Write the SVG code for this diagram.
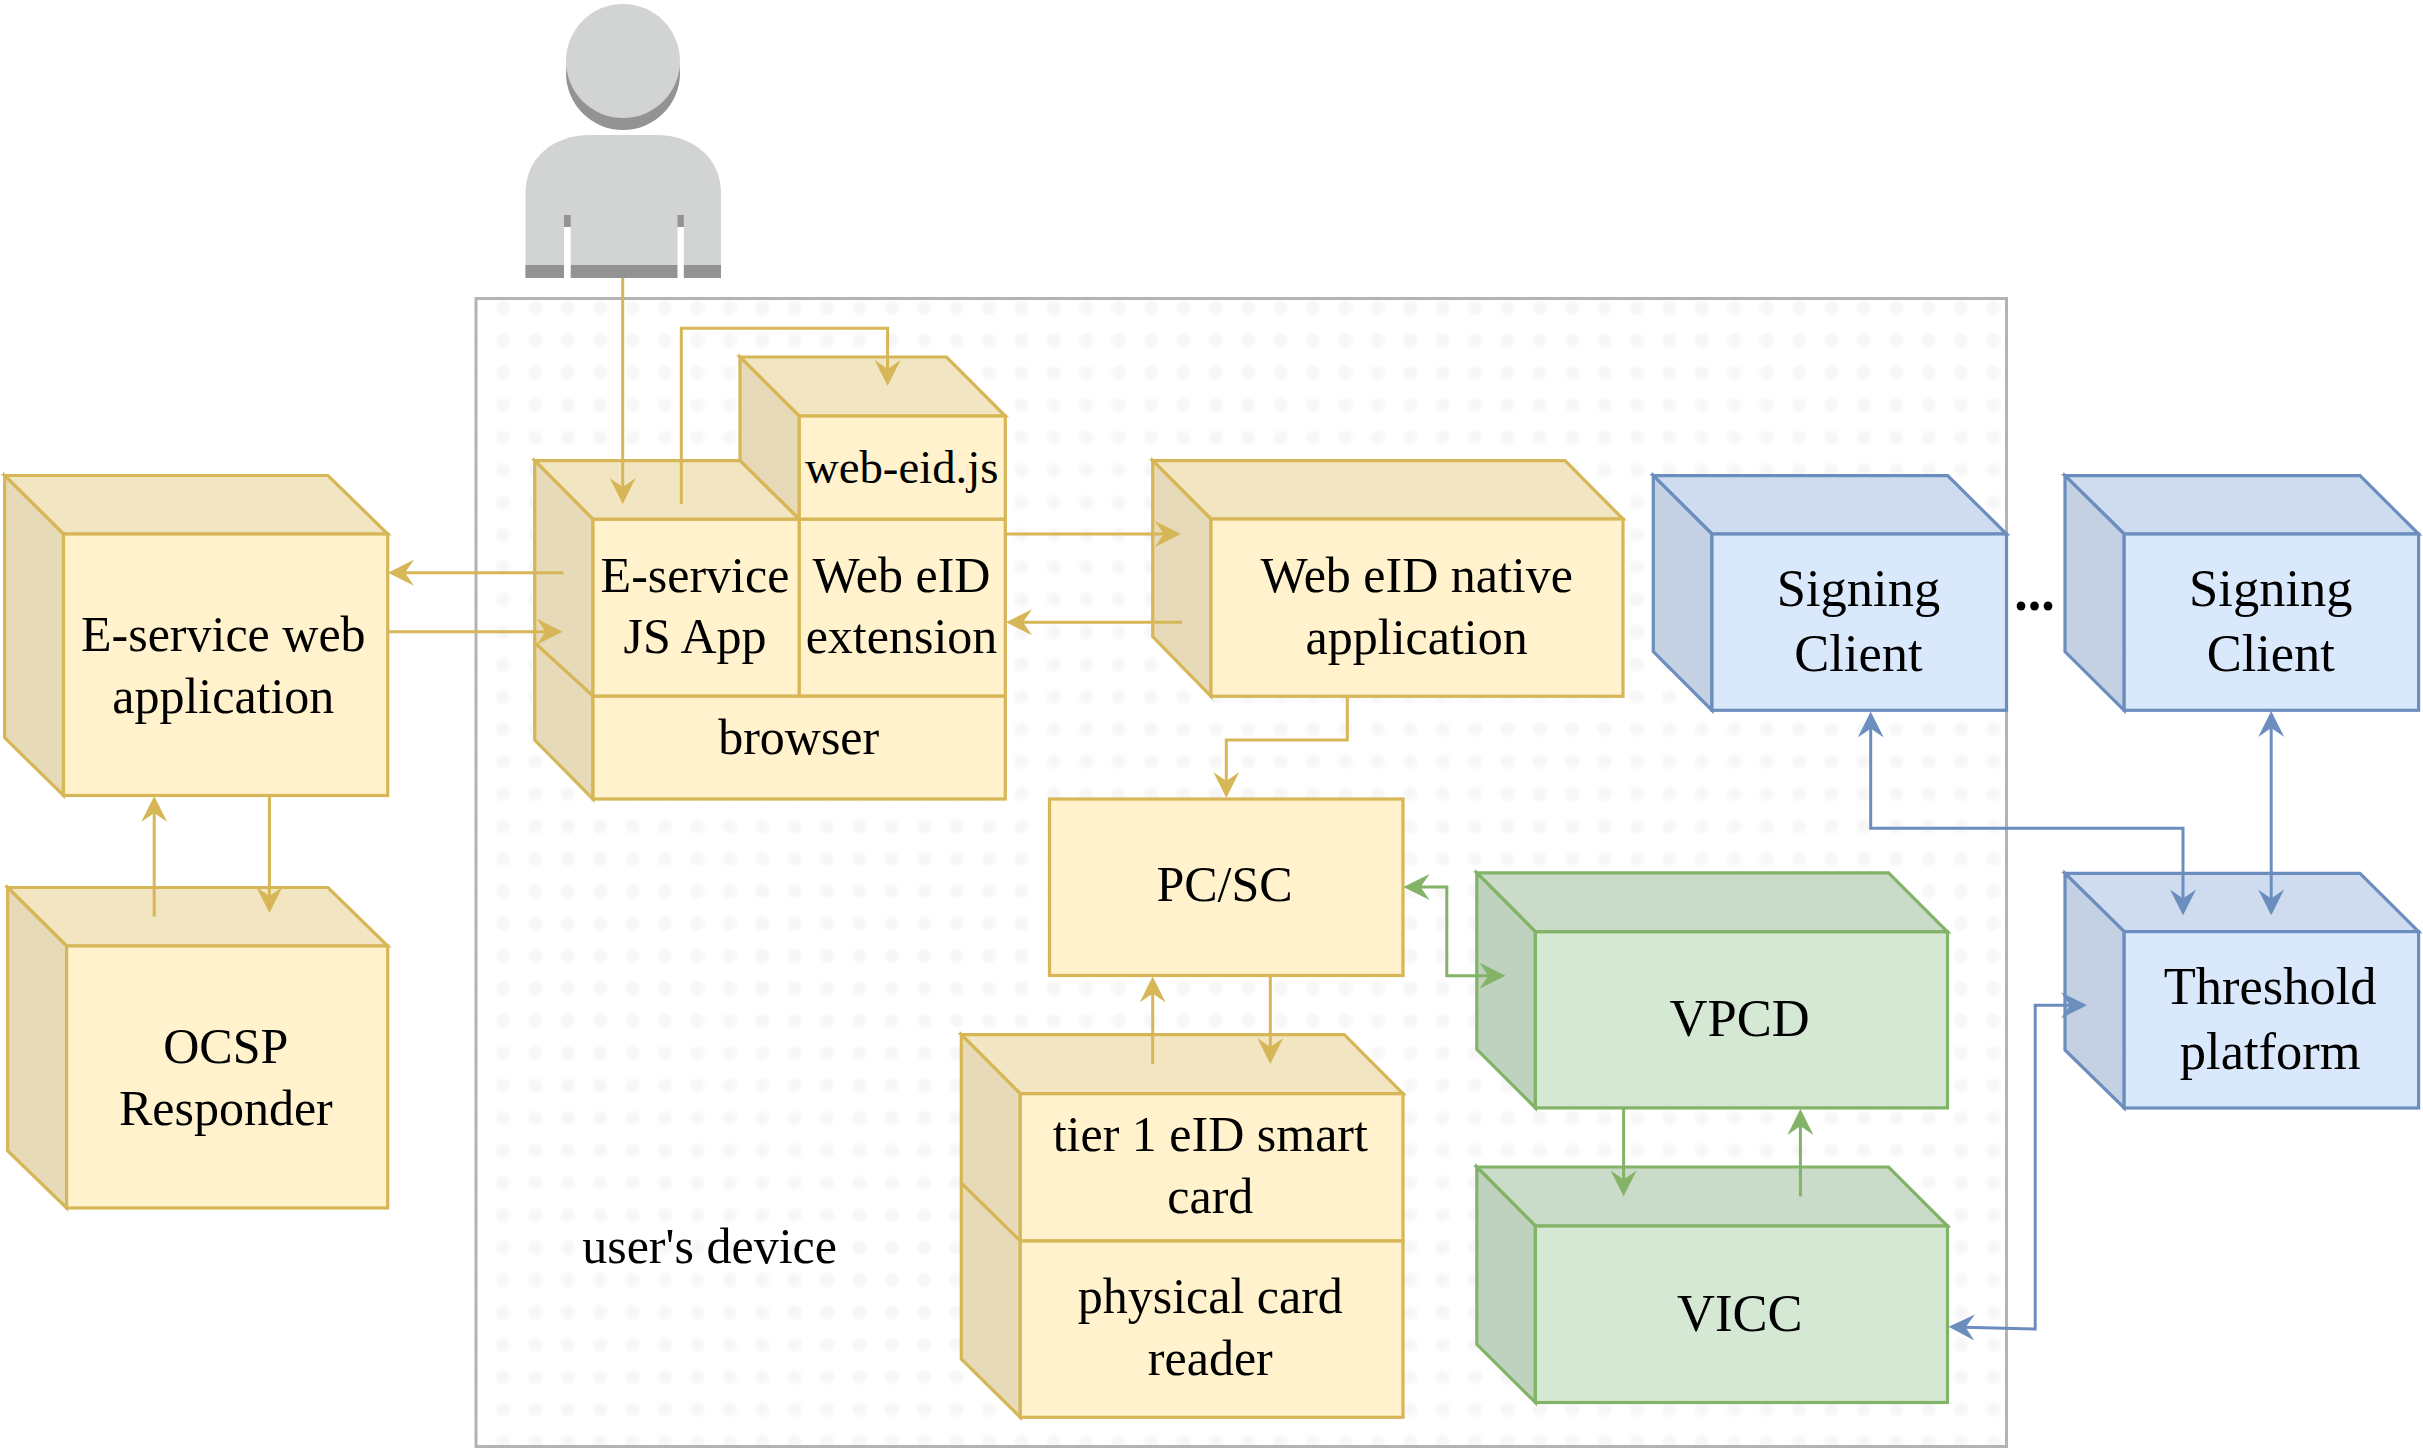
<svg xmlns="http://www.w3.org/2000/svg" width="2423" height="1454" viewBox="0 0 2423 1454">
<style>
text{font-family:"Liberation Serif","Times New Roman",serif;fill:#000;text-anchor:middle}
.t50{font-size:50px}
.t47{font-size:46.8px}
.t52{font-size:52.5px}
.n{stroke-width:3.2;stroke-linejoin:miter}
.y{stroke:#d6b656}.y.f{fill:#fff2cc}.y.t{fill:#f2e6c2}.y.s{fill:#e6dab8}
.g{stroke:#82b366}.g.f{fill:#d5e8d4}.g.t{fill:#cadcc9}.g.s{fill:#bfd1bf}
.b{stroke:#6c8ebf}.b.f{fill:#dae8fc}.b.t{fill:#cfdcf0}.b.s{fill:#c4d1e3}
.c{fill:none;stroke-width:3}
.cy{stroke:#d6b656;marker-end:url(#ay)}
.cg{stroke:#82b366;marker-end:url(#ag)}
.cb{stroke:#6c8ebf;marker-end:url(#ab)}
.cg.two{marker-start:url(#ag)}
.cb.two{marker-start:url(#ab)}
</style>
<defs>
<radialGradient id="dot">
<stop offset="0" stop-color="#f6f6f6"/>
<stop offset="0.55" stop-color="#f7f7f7"/>
<stop offset="1" stop-color="#ffffff"/>
</radialGradient>
<pattern id="dots" patternUnits="userSpaceOnUse" x="486.8" y="291.8" width="32.4" height="32.4">
<circle cx="16.2" cy="16.2" r="9" fill="url(#dot)"/>
</pattern>
<marker id="ay" viewBox="0 0 26 26" refX="10" refY="13" markerWidth="26" markerHeight="26" markerUnits="userSpaceOnUse" orient="auto-start-reverse"><path d="M26,13 L0,0 L9,13 L0,26 Z" fill="#d6b656"/></marker>
<marker id="ag" viewBox="0 0 26 26" refX="10" refY="13" markerWidth="26" markerHeight="26" markerUnits="userSpaceOnUse" orient="auto-start-reverse"><path d="M26,13 L0,0 L9,13 L0,26 Z" fill="#82b366"/></marker>
<marker id="ab" viewBox="0 0 26 26" refX="10" refY="13" markerWidth="26" markerHeight="26" markerUnits="userSpaceOnUse" orient="auto-start-reverse"><path d="M26,13 L0,0 L9,13 L0,26 Z" fill="#6c8ebf"/></marker>
</defs>
<rect width="2423" height="1454" fill="#ffffff"/>

<g id="users-device">
<rect x="476" y="298.5" width="1530.5" height="1148" fill="#ffffff"/>
<rect x="476" y="298.5" width="1530.5" height="1148" fill="url(#dots)" stroke="#b3b3b3" stroke-width="3"/>
<text class="t50" x="709.6" y="1263.3">user's device</text>
</g>

<g id="user">
<ellipse cx="623" cy="73" rx="57" ry="57" fill="#939393"/>
<ellipse cx="623" cy="61" rx="57" ry="57" fill="#d2d3d3"/>
<path d="M525.5,278 V193 C525.5,158 553,135 590.5,135 H656 C693,135 721,158 721,193 V278 Z" fill="#d2d3d3"/>
<rect x="525.5" y="265" width="195.5" height="13" fill="#939393"/>
<rect x="564" y="215" width="6.7" height="12" fill="#939393"/>
<rect x="677.5" y="215" width="6.3" height="12" fill="#939393"/>
<rect x="564" y="227" width="6.7" height="51" fill="#ffffff"/>
<rect x="677.5" y="227" width="6.3" height="51" fill="#ffffff"/>
</g>

<g id="e-service-web-application">
<polygon class="n y t" points="4.6,475.5 328,475.5 387.7,534 63.5,534"/>
<polygon class="n y s" points="4.6,475.5 63.5,534 63.5,795.5 4.6,737.7"/>
<rect class="n y f" x="63.5" y="534" width="324.2" height="261.5"/>
<text class="t50" x="223.3" y="651">E-service web</text>
<text class="t50" x="223.3" y="713">application</text>
</g>

<g id="ocsp-responder">
<polygon class="n y t" points="7.6,887.5 328,887.5 387.7,946 66.6,946"/>
<polygon class="n y s" points="7.6,887.5 66.6,946 66.6,1208 7.6,1150.7"/>
<rect class="n y f" x="66.6" y="946" width="321.1" height="262"/>
<text class="t50" x="225.8" y="1063">OCSP</text>
<text class="t50" x="225.8" y="1125">Responder</text>
</g>

<g id="web-eid-js">
<polygon class="n y t" points="740,357 946.5,357 1005.3,416 799.3,416"/>
<polygon class="n y s" points="740,357 799.3,416 799.3,519.3 740,460.7"/>
<rect class="n y f" x="799.3" y="416" width="206" height="103.3"/>
<text class="t47" x="901.7" y="483">web-eid.js</text>
</g>

<g id="browser">
<polygon class="n y t" points="534.7,460.7 740,460.7 799.3,519.3 593,519.3"/>
<polygon class="n y s" points="534.7,460.7 593,519.3 593,799 534.7,740"/>
<line class="n y" x1="534.7" y1="642.7" x2="593" y2="696"/>
<rect class="n y f" x="593" y="696" width="412.3" height="103"/>
<text class="t50" x="798.7" y="753.7">browser</text>
</g>

<g id="e-service-js-app">
<rect class="n y f" x="593" y="519.3" width="206.3" height="176.7"/>
<text class="t50" x="695" y="592">E-service</text>
<text class="t50" x="695" y="653">JS App</text>
</g>

<g id="web-eid-extension">
<rect class="n y f" x="799.3" y="519.3" width="206" height="176.7"/>
<text class="t50" x="901.5" y="592">Web eID</text>
<text class="t50" x="901.5" y="653">extension</text>
</g>

<g id="web-eid-native-application">
<polygon class="n y t" points="1152.7,460.7 1565,460.7 1623,519 1211,519"/>
<polygon class="n y s" points="1152.7,460.7 1211,519 1211,696.3 1152.7,636.7"/>
<rect class="n y f" x="1211" y="519" width="412" height="177.3"/>
<text class="t50" x="1416.7" y="592">Web eID native</text>
<text class="t50" x="1416.7" y="654">application</text>
</g>

<g id="pc-sc">
<rect class="n y f" x="1049.5" y="799" width="353.5" height="176.5"/>
<text class="t50" x="1224.5" y="901">PC/SC</text>
</g>

<g id="card-reader">
<polygon class="n y t" points="961.3,1034.7 1344.3,1034.7 1403,1093.7 1020.3,1093.7"/>
<polygon class="n y s" points="961.3,1034.7 1020.3,1093.7 1020.3,1417.3 961.3,1359"/>
<line class="n y" x1="961.3" y1="1183" x2="1020.3" y2="1241"/>
<rect class="n y f" x="1020.3" y="1093.7" width="382.7" height="147.3"/>
<rect class="n y f" x="1020.3" y="1241" width="382.7" height="176.3"/>
<text class="t50" x="1210.3" y="1151">tier 1 eID smart</text>
<text class="t50" x="1210.3" y="1213">card</text>
<text class="t50" x="1210.3" y="1313">physical card</text>
<text class="t50" x="1210.3" y="1375">reader</text>
</g>

<g id="vpcd">
<polygon class="n g t" points="1476.8,872.9 1888.6,872.9 1947.5,931.8 1535.4,931.8"/>
<polygon class="n g s" points="1476.8,872.9 1535.4,931.8 1535.4,1107.9 1476.8,1049.3"/>
<rect class="n g f" x="1535.4" y="931.8" width="412.1" height="176.1"/>
<text class="t52" x="1739.6" y="1035.7">VPCD</text>
</g>

<g id="vicc">
<polygon class="n g t" points="1476.8,1167 1888.6,1167 1947.5,1226 1535.4,1226"/>
<polygon class="n g s" points="1476.8,1167 1535.4,1226 1535.4,1402.5 1476.8,1344.3"/>
<rect class="n g f" x="1535.4" y="1226" width="412.1" height="176.5"/>
<text class="t52" x="1739.8" y="1330.7">VICC</text>
</g>

<g id="signing-client-1">
<polygon class="n b t" points="1653.3,475.7 1947.7,475.7 2006.5,534 1712,534"/>
<polygon class="n b s" points="1653.3,475.7 1712,534 1712,710.3 1653.3,651.7"/>
<rect class="n b f" x="1712" y="534" width="294.5" height="176.3"/>
<text class="t52" x="1858.5" y="606">Signing</text>
<text class="t52" x="1858.5" y="671">Client</text>
</g>

<g id="signing-client-2">
<polygon class="n b t" points="2065,475.7 2360,475.7 2418.6,534 2124.2,534"/>
<polygon class="n b s" points="2065,475.7 2124.2,534 2124.2,710.3 2065,651.7"/>
<rect class="n b f" x="2124.2" y="534" width="294.4" height="176.3"/>
<text class="t52" x="2270.8" y="606">Signing</text>
<text class="t52" x="2270.8" y="671">Client</text>
</g>

<g id="threshold-platform">
<polygon class="n b t" points="2065,873.4 2360,873.4 2418.6,931.6 2124.2,931.6"/>
<polygon class="n b s" points="2065,873.4 2124.2,931.6 2124.2,1108 2065,1050"/>
<rect class="n b f" x="2124.2" y="931.6" width="294.4" height="176.4"/>
<text class="t52" x="2270.2" y="1004">Threshold</text>
<text class="t52" x="2270.2" y="1069.4">platform</text>
</g>

<g id="ellipsis">
<text x="2034.4" y="609.5" font-size="54" font-weight="bold">...</text>
</g>

<g id="connectors">
<path class="c cy" d="M622.7,278 V488"/>
<path class="c cy" d="M681.3,504 V328.3 H887.6 V370"/>
<path class="c cy" d="M563.5,572.7 H404"/>
<path class="c cy" d="M388,631.7 H546.6"/>
<path class="c cy" d="M154.2,916.6 V812"/>
<path class="c cy" d="M269.4,796 V897"/>
<path class="c cy" d="M1005.5,534 H1164.8"/>
<path class="c cy" d="M1182,622.3 H1022"/>
<path class="c cy" d="M1347.3,696.5 V740 H1226.3 V782"/>
<path class="c cy" d="M1152.7,1064 V992.5"/>
<path class="c cy" d="M1270.3,976 V1048"/>
<path class="c cg two" d="M1419.6,887 H1446.8 V975.7 H1489.4"/>
<path class="c cg" d="M1623.6,1108 V1180.4"/>
<path class="c cg" d="M1800.4,1196.4 V1125"/>
<path class="c cb two" d="M1870.7,727.5 V828.3 H2183 V899.4"/>
<path class="c cb two" d="M2271.2,727 V899.4"/>
<path class="c cb two" d="M1964.6,1327.2 L2035.2,1329 V1005.3 H2071"/>
</g>
</svg>
